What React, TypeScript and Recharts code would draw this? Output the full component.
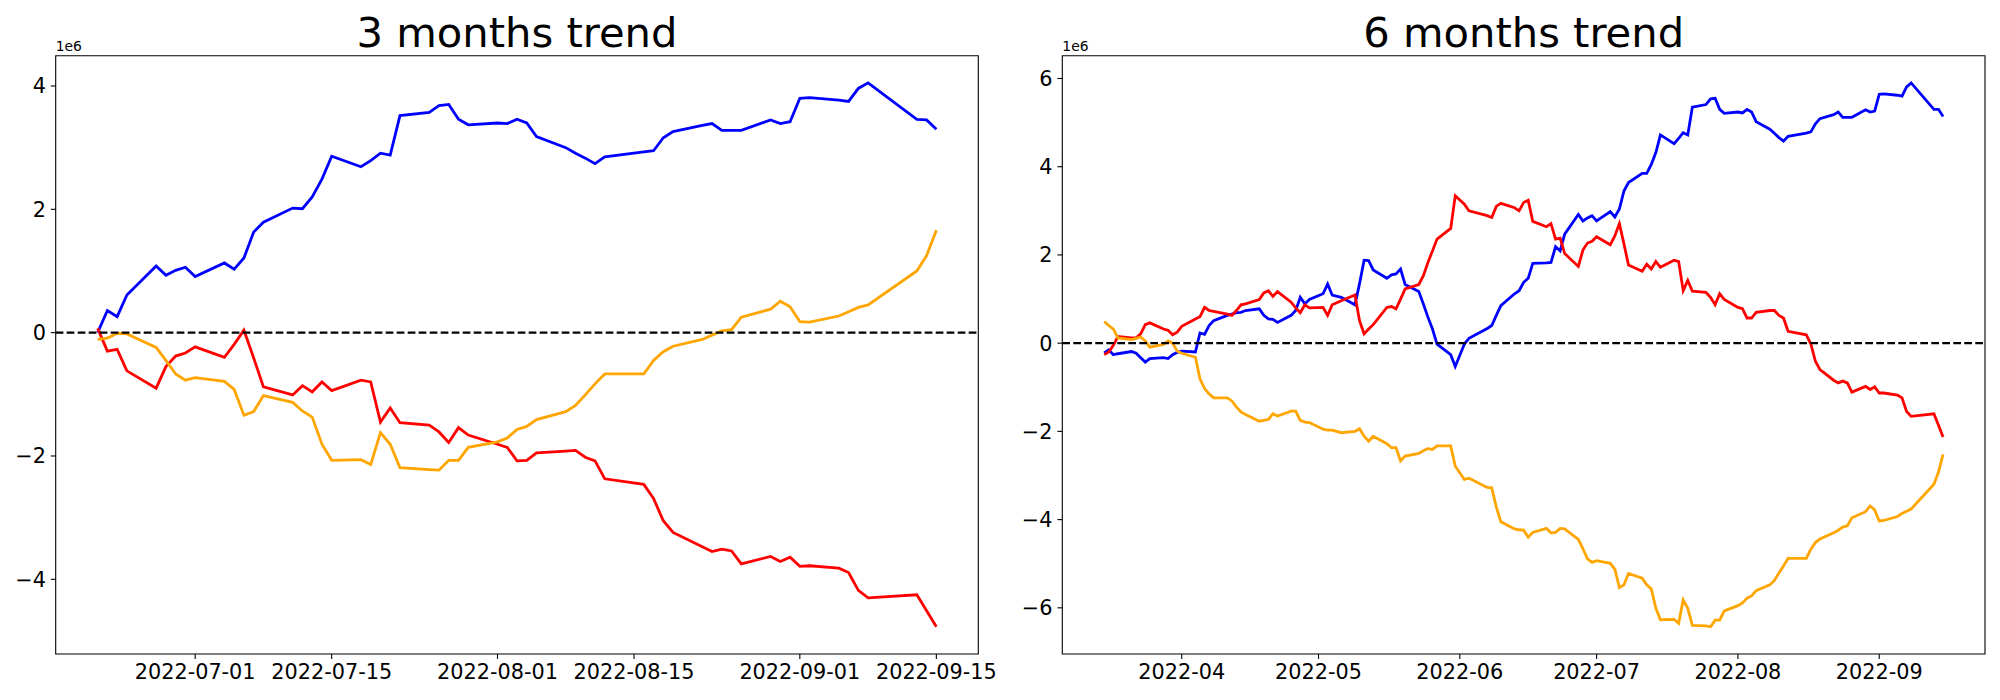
import { LineChart, Line, XAxis, YAxis, ReferenceLine, ReferenceArea } from 'recharts';

// values are in millions (the axes show a "1e6" offset label)
const dates3 = [
  '2022-06-21', '2022-06-22', '2022-06-23', '2022-06-24', '2022-06-27', '2022-06-28', '2022-06-29', '2022-06-30',
  '2022-07-01', '2022-07-04', '2022-07-05', '2022-07-06', '2022-07-07', '2022-07-08', '2022-07-11', '2022-07-12',
  '2022-07-13', '2022-07-14', '2022-07-15', '2022-07-18', '2022-07-19', '2022-07-20', '2022-07-21', '2022-07-22',
  '2022-07-25', '2022-07-26', '2022-07-27', '2022-07-28', '2022-07-29', '2022-08-01', '2022-08-02', '2022-08-03',
  '2022-08-04', '2022-08-05', '2022-08-08', '2022-08-09', '2022-08-10', '2022-08-11', '2022-08-12', '2022-08-16',
  '2022-08-17', '2022-08-18', '2022-08-19', '2022-08-22', '2022-08-23', '2022-08-24', '2022-08-25', '2022-08-26',
  '2022-08-29', '2022-08-30', '2022-08-31', '2022-09-01', '2022-09-02', '2022-09-05', '2022-09-06', '2022-09-07',
  '2022-09-08', '2022-09-13', '2022-09-14', '2022-09-15',
];
const blue3 = [
  0.0, 0.36, 0.26, 0.61, 1.08, 0.93, 1.01, 1.06,
  0.91, 1.13, 1.03, 1.21, 1.63, 1.79, 2.02, 2.01,
  2.2, 2.49, 2.86, 2.69, 2.79, 2.91, 2.88, 3.52,
  3.57, 3.68, 3.7, 3.46, 3.37, 3.4, 3.39, 3.46,
  3.4, 3.18, 3.0, 2.91, 2.83, 2.74, 2.85, 2.93,
  2.95, 3.16, 3.26, 3.36, 3.39, 3.28, 3.28, 3.28,
  3.45, 3.39, 3.42, 3.8, 3.81, 3.77, 3.75, 3.96,
  4.05, 3.46, 3.45, 3.3,
];
const red3 = [
  0.07, -0.3, -0.27, -0.62, -0.9, -0.55, -0.38, -0.33,
  -0.23, -0.4, -0.19, 0.04, -0.41, -0.88, -1.01, -0.86,
  -0.96, -0.8, -0.94, -0.77, -0.8, -1.45, -1.22, -1.46,
  -1.5, -1.61, -1.78, -1.54, -1.66, -1.81, -1.86, -2.08,
  -2.07, -1.95, -1.92, -1.91, -2.02, -2.08, -2.37, -2.46,
  -2.69, -3.05, -3.24, -3.47, -3.55, -3.51, -3.54, -3.75,
  -3.63, -3.71, -3.64, -3.79, -3.78, -3.82, -3.89, -4.18,
  -4.3, -4.25, -4.51, -4.77,
];
const orange3 = [
  -0.11, -0.09, -0.01, -0.02, -0.24, -0.45, -0.67, -0.77,
  -0.73, -0.79, -0.92, -1.34, -1.28, -1.02, -1.13, -1.27,
  -1.37, -1.81, -2.07, -2.06, -2.14, -1.62, -1.81, -2.19,
  -2.22, -2.23, -2.07, -2.07, -1.86, -1.77, -1.71, -1.57,
  -1.52, -1.41, -1.28, -1.18, -1.01, -0.83, -0.67, -0.67,
  -0.45, -0.31, -0.22, -0.11, -0.04, 0.03, 0.05, 0.25,
  0.38, 0.51, 0.42, 0.18, 0.17, 0.27, 0.34, 0.41,
  0.45, 1.0, 1.25, 1.66,
];

const dates6 = [
  '2022-03-15', '2022-03-16', '2022-03-17', '2022-03-18', '2022-03-21', '2022-03-22', '2022-03-23', '2022-03-24',
  '2022-03-25', '2022-03-28', '2022-03-29', '2022-03-30', '2022-03-31',
  '2022-04-01', '2022-04-04', '2022-04-05', '2022-04-06', '2022-04-07', '2022-04-08', '2022-04-11', '2022-04-12',
  '2022-04-13', '2022-04-14', '2022-04-15', '2022-04-18', '2022-04-19', '2022-04-20', '2022-04-21', '2022-04-22',
  '2022-04-25', '2022-04-26', '2022-04-27', '2022-04-28', '2022-04-29',
  '2022-05-02', '2022-05-03', '2022-05-04', '2022-05-06', '2022-05-09', '2022-05-10', '2022-05-11', '2022-05-12',
  '2022-05-13', '2022-05-16', '2022-05-17', '2022-05-18', '2022-05-19', '2022-05-20', '2022-05-23', '2022-05-24',
  '2022-05-25', '2022-05-26', '2022-05-27', '2022-05-30', '2022-05-31',
  '2022-06-02', '2022-06-03', '2022-06-07', '2022-06-08', '2022-06-09', '2022-06-10', '2022-06-13', '2022-06-14',
  '2022-06-15', '2022-06-16', '2022-06-17', '2022-06-20', '2022-06-21', '2022-06-22', '2022-06-23', '2022-06-24',
  '2022-06-27', '2022-06-28', '2022-06-29', '2022-06-30',
  '2022-07-01', '2022-07-04', '2022-07-05', '2022-07-06', '2022-07-07', '2022-07-08', '2022-07-11', '2022-07-12',
  '2022-07-13', '2022-07-14', '2022-07-15', '2022-07-18', '2022-07-19', '2022-07-20', '2022-07-21', '2022-07-22',
  '2022-07-25', '2022-07-26', '2022-07-27', '2022-07-28', '2022-07-29',
  '2022-08-01', '2022-08-02', '2022-08-03', '2022-08-04', '2022-08-05', '2022-08-08', '2022-08-09', '2022-08-10',
  '2022-08-11', '2022-08-12', '2022-08-16', '2022-08-17', '2022-08-18', '2022-08-19', '2022-08-22', '2022-08-23',
  '2022-08-24', '2022-08-25', '2022-08-26', '2022-08-29', '2022-08-30', '2022-08-31',
  '2022-09-01', '2022-09-02', '2022-09-05', '2022-09-06', '2022-09-07', '2022-09-08', '2022-09-13', '2022-09-14',
  '2022-09-15',
];
const blue6 = [
  -0.22, -0.15, -0.26, -0.24, -0.19, -0.23, -0.33, -0.43, -0.35, -0.33, -0.35, -0.26, -0.21,
  -0.18, -0.2, 0.23, 0.2, 0.4, 0.51, 0.63, 0.66, 0.69, 0.7, 0.74, 0.78, 0.63, 0.55, 0.54, 0.47,
  0.63, 0.74, 1.04, 0.89, 0.99,
  1.12, 1.34, 1.09, 1.04, 0.87, 1.35, 1.88, 1.87, 1.66, 1.47, 1.55, 1.57, 1.68, 1.33, 1.17, 0.89,
  0.59, 0.32, -0.02, -0.26, -0.53,
  -0.02, 0.11, 0.33, 0.4, 0.63, 0.85, 1.12, 1.19, 1.38, 1.47, 1.81, 1.82, 1.83, 2.19, 2.09, 2.47,
  2.92, 2.77, 2.84, 2.89,
  2.77, 2.98, 2.86, 3.04, 3.45, 3.64, 3.85, 3.85, 4.05, 4.32, 4.72, 4.52, 4.64, 4.77, 4.72, 5.35,
  5.41, 5.54, 5.55, 5.3, 5.21,
  5.24, 5.22, 5.3, 5.24, 5.02, 4.85, 4.76, 4.66, 4.58, 4.69, 4.76, 4.79, 4.97, 5.09, 5.18, 5.24,
  5.12, 5.12, 5.12, 5.29, 5.24, 5.26,
  5.64, 5.65, 5.62, 5.6, 5.81, 5.9, 5.3, 5.3, 5.14,
];
const red6 = [
  -0.26, -0.2, -0.05, 0.15, 0.12, 0.12, 0.21, 0.42, 0.46, 0.32, 0.29, 0.19, 0.25,
  0.38, 0.55, 0.6, 0.81, 0.74, 0.72, 0.66, 0.63, 0.74, 0.87, 0.89, 0.99, 1.14, 1.19, 1.06, 1.17,
  0.93, 0.8, 0.69, 0.87, 0.8,
  0.81, 0.63, 0.87, 0.96, 1.09, 0.51, 0.21, 0.32, 0.42, 0.81, 0.83, 0.78, 1.0, 1.23, 1.33, 1.53,
  1.83, 2.09, 2.36, 2.6, 3.34,
  3.15, 3.0, 2.89, 2.85, 3.1, 3.17, 3.07, 3.0, 3.19, 3.24, 2.76, 2.64, 2.71, 2.36, 2.38, 2.03,
  1.74, 2.11, 2.27, 2.31,
  2.41, 2.23, 2.43, 2.71, 2.25, 1.77, 1.63, 1.79, 1.68, 1.85, 1.72, 1.88, 1.85, 1.19, 1.42, 1.18,
  1.15, 1.04, 0.87, 1.12, 0.99,
  0.81, 0.78, 0.57, 0.57, 0.7, 0.74, 0.74, 0.63, 0.57, 0.27, 0.19, -0.02, -0.41, -0.6, -0.84, -0.9,
  -0.86, -0.9, -1.11, -0.98, -1.05, -0.99,
  -1.13, -1.13, -1.18, -1.24, -1.55, -1.66, -1.6, -1.86, -2.13,
];
const orange6 = [
  0.49, 0.4, 0.32, 0.12, 0.08, 0.11, 0.14, 0.05, -0.09, -0.03, 0.05, 0.0, -0.18,
  -0.23, -0.32, -0.81, -1.03, -1.15, -1.24, -1.24, -1.31, -1.45, -1.56, -1.62, -1.77, -1.75, -1.73, -1.6, -1.65,
  -1.54, -1.54, -1.75, -1.79, -1.8,
  -1.95, -1.97, -1.97, -2.03, -2.0, -1.94, -2.11, -2.22, -2.11, -2.28, -2.37, -2.37, -2.67, -2.56, -2.5, -2.44,
  -2.39, -2.41, -2.33, -2.33, -2.79,
  -3.09, -3.06, -3.27, -3.28, -3.71, -4.05, -4.21, -4.23, -4.24, -4.4, -4.29, -4.2, -4.3, -4.29, -4.2, -4.21,
  -4.45, -4.66, -4.89, -4.97,
  -4.93, -4.99, -5.12, -5.54, -5.48, -5.22, -5.33, -5.48, -5.57, -6.01, -6.27, -6.26, -6.35, -5.82, -6.01, -6.4,
  -6.41, -6.43, -6.28, -6.28, -6.07,
  -5.95, -5.89, -5.78, -5.73, -5.61, -5.48, -5.38, -5.21, -5.05, -4.88, -4.88, -4.67, -4.52, -4.44, -4.3, -4.24,
  -4.17, -4.14, -3.96, -3.82, -3.69, -3.78,
  -4.03, -4.02, -3.93, -3.86, -3.81, -3.76, -3.2, -2.92, -2.52,
];

const ticks3 = ['2022-07-01', '2022-07-15', '2022-08-01', '2022-08-15', '2022-09-01', '2022-09-15'];
const tickLabels3 = ['2022-07-01', '2022-07-15', '2022-08-01', '2022-08-15', '2022-09-01', '2022-09-15'];
const ticks6 = ['2022-04-01', '2022-05-01', '2022-06-01', '2022-07-01', '2022-08-01', '2022-09-01'];
const tickLabels6 = ['2022-04', '2022-05', '2022-06', '2022-07', '2022-08', '2022-09'];
const yTicks3 = [-4, -2, 0, 2, 4];
const yTicks6 = [-6, -4, -2, 0, 2, 4, 6];

const toTime = (d: string) => Date.parse(d + 'T00:00:00Z');
const FONT = "'DejaVu Sans', sans-serif";

// matplotlib-style 5% margins
function padded(min: number, max: number): [number, number] {
  const m = (max - min) * 0.05;
  return [min - m, max + m];
}

const fmtY = (v: number) => (v < 0 ? '\u2212' + Math.abs(v) : String(v));

interface TrendProps {
  title: string;
  dates: string[];
  blue: number[];
  red: number[];
  orange: number[];
  xTicks: string[];
  xLabels: string[];
  yTicks: number[];
  left: number;
  axisWidth: number;
  rightMargin: number;
}

function TrendChart({ title, dates, blue, red, orange, xTicks, xLabels, yTicks, left, axisWidth, rightMargin }: TrendProps) {
  const data = dates.map((d, i) => ({ t: toTime(d), blue: blue[i], red: red[i], orange: orange[i] }));
  const times = data.map((r) => r.t);
  const all = [...blue, ...red, ...orange];
  const xDomain = padded(Math.min(...times), Math.max(...times));
  const yDomain = padded(Math.min(...all), Math.max(...all));
  const tickTimes = xTicks.map(toTime);
  const labelFor = (t: number) => xLabels[tickTimes.indexOf(t)] ?? '';
  const W = 1000;
  const H = 700;
  const plotLeft = axisWidth;
  const plotRight = W - rightMargin;
  const tickStyle = { fill: '#000', fontSize: 20.8, fontFamily: FONT };

  return (
    <div style={{ position: 'absolute', left, top: 0, width: W, height: H }}>
      <LineChart width={W} height={H} data={data} margin={{ top: 55.7, right: rightMargin, bottom: 0, left: 0 }}>
        <XAxis
          dataKey="t"
          type="number"
          domain={xDomain}
          allowDataOverflow
          ticks={tickTimes}
          interval={0}
          tickFormatter={labelFor}
          height={46}
          axisLine={false}
          tickSize={4.9}
          tickMargin={4.9}
          tickLine={{ stroke: '#000', strokeWidth: 1.1 }}
          tick={tickStyle}
        />
        <YAxis
          type="number"
          domain={yDomain}
          allowDataOverflow
          ticks={yTicks}
          interval={0}
          tickFormatter={fmtY}
          width={axisWidth}
          axisLine={false}
          tickSize={4.9}
          tickMargin={4.9}
          tickLine={{ stroke: '#000', strokeWidth: 1.1 }}
          tick={tickStyle}
        />
        <Line type="linear" dataKey="blue" stroke="#0000ff" strokeWidth={2.8} dot={false} isAnimationActive={false} />
        <Line type="linear" dataKey="red" stroke="#ff0000" strokeWidth={2.8} dot={false} isAnimationActive={false} />
        <Line type="linear" dataKey="orange" stroke="#ffa500" strokeWidth={2.8} dot={false} isAnimationActive={false} />
        <ReferenceLine y={0} stroke="#000" strokeWidth={2.1} strokeDasharray="7.7 3.3" />
        <ReferenceArea
          x1={xDomain[0]}
          x2={xDomain[1]}
          y1={yDomain[0]}
          y2={yDomain[1]}
          fill="none"
          stroke="#000"
          strokeWidth={1.1}
          ifOverflow="visible"
        />
      </LineChart>
      <svg width={W} height={H} style={{ position: 'absolute', left: 0, top: 0, pointerEvents: 'none' }}>
        <text x={(plotLeft + plotRight) / 2} y={47} textAnchor="middle" fontFamily={FONT} fontSize={41.67} fill="#000">
          {title}
        </text>
        <text x={plotLeft} y={50.5} fontFamily={FONT} fontSize={13.9} fill="#000">
          1e6
        </text>
      </svg>
    </div>
  );
}

export default function App() {
  return (
    <div style={{ position: 'absolute', left: 0, top: 0, width: 2000, height: 700, background: '#fff' }}>
      <TrendChart
        title="3 months trend"
        dates={dates3}
        blue={blue3}
        red={red3}
        orange={orange3}
        xTicks={ticks3}
        xLabels={tickLabels3}
        yTicks={yTicks3}
        left={0}
        axisWidth={55.7}
        rightMargin={21.7}
      />
      <TrendChart
        title="6 months trend"
        dates={dates6}
        blue={blue6}
        red={red6}
        orange={orange6}
        xTicks={ticks6}
        xLabels={tickLabels6}
        yTicks={yTicks6}
        left={1000}
        axisWidth={62.3}
        rightMargin={15}
      />
    </div>
  );
}
